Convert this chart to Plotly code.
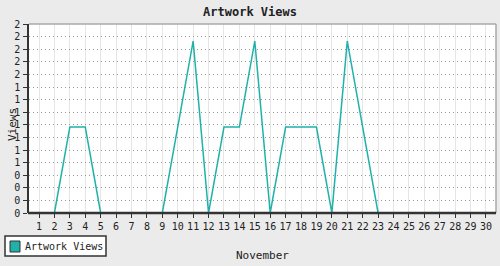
import plotly.graph_objects as go

days = list(range(1, 31))
views = [0, 0, 1, 1, 0, 0, 0, 0, 0, 1, 2, 0, 1, 1, 2, 0, 1, 1, 1, 0, 2, 1, 0, 0, 0, 0, 0, 0, 0, 0]
series_name = "Artwork Views"
title_text = "Artwork Views"
x_title = "November"
y_title = "Views"

teal = "#20b2aa"
font_mono = "DejaVu Sans Mono"

y_max = max(views) * 1.1
n_int = 15
y_tickvals = [k * y_max / n_int for k in range(n_int + 1)]
y_ticktext = [str(int(v + 0.5)) for v in y_tickvals]

fig = go.Figure()
fig.add_trace(go.Scatter(x=days, y=views, mode="lines", name=series_name,
                         line=dict(color=teal, width=1.5), showlegend=False))

L, R, T, B = 29, 4, 24, 53
W, H = 500, 266
pw, ph = W - L - R, H - T - B

def px_x(x):
    return (x - L) / pw

def px_y(ytop):
    return (H - B - ytop) / ph

fig.update_layout(
    width=W, height=H,
    margin=dict(l=L, r=R, t=T, b=B),
    paper_bgcolor="#ebebeb", plot_bgcolor="#ffffff",
    font=dict(family=font_mono, size=10, color="#222"),
    title=dict(text="<b>" + title_text + "</b>", x=0.5, xanchor="center", y=1 - 12 / H, yanchor="middle",
               font=dict(family=font_mono, size=12, color="#222")),
    showlegend=False,
    xaxis=dict(range=[0.35, 30.65], tickvals=days, ticktext=[str(d) for d in days],
               showgrid=True, gridcolor="#e6e6e6", gridwidth=1,
               showline=False,
               ticks="outside", ticklen=4, tickcolor="#333",
               tickfont=dict(family=font_mono, size=10), zeroline=False, fixedrange=True),
    yaxis=dict(range=[0, y_max], tickvals=y_tickvals, ticktext=y_ticktext,
               showgrid=True, gridcolor="#9a9a9a", griddash="1px,3px", gridwidth=1,
               showline=True, linecolor="#333", linewidth=1.5,
               ticks="outside", ticklen=4, tickcolor="#333", ticklabelstandoff=1,
               tickfont=dict(family=font_mono, size=10), zeroline=False, fixedrange=True),
)

# top/right frame
fig.add_shape(type="line", xref="paper", yref="paper", x0=0, x1=1, y0=1, y1=1,
              line=dict(color="#a8a8a8", width=1.5))
fig.add_shape(type="line", xref="paper", yref="paper", x0=1, x1=1, y0=0, y1=1,
              line=dict(color="#a8a8a8", width=1.5))
# bottom axis line drawn above the trace
fig.add_shape(type="line", xref="paper", yref="paper", x0=px_x(28), x1=1, y0=0, y1=0,
              line=dict(color="#333", width=2.5), layer="above")

# axis titles
fig.add_annotation(text=y_title, xref="paper", yref="paper", x=px_x(12), y=px_y(125),
                   xanchor="center", yanchor="middle",
                   textangle=-90, showarrow=False, font=dict(family=font_mono, size=11, color="#222"))
fig.add_annotation(text=x_title, xref="paper", yref="paper", x=px_x(262), y=px_y(255),
                   xanchor="center", yanchor="middle",
                   showarrow=False, font=dict(family=font_mono, size=11, color="#222"))

# legend box
fig.add_shape(type="rect", xref="paper", yref="paper", x0=px_x(5), x1=px_x(106),
              y0=px_y(256), y1=px_y(236), line=dict(color="#333", width=1.5),
              fillcolor="#ffffff", layer="above")
fig.add_shape(type="rect", xref="paper", yref="paper", x0=px_x(10), x1=px_x(20),
              y0=px_y(252), y1=px_y(241), line=dict(color="#333", width=1),
              fillcolor=teal, layer="above")
fig.add_annotation(text=series_name, xref="paper", yref="paper", x=px_x(23), y=px_y(246.5),
                   xanchor="left", yanchor="middle", showarrow=False,
                   font=dict(family=font_mono, size=10, color="#222"))

fig.write_html("out.html")
